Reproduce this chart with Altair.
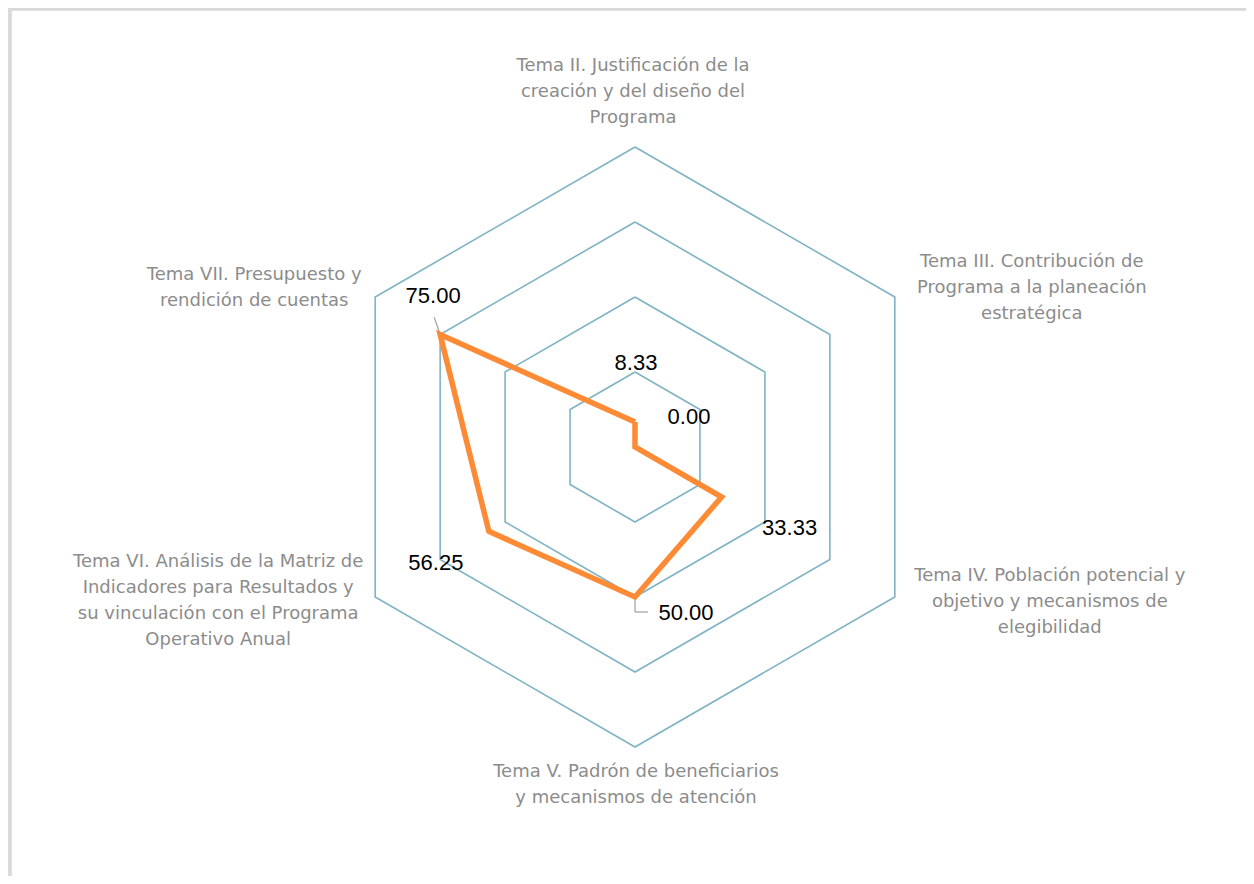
import altair as alt
import pandas as pd

# ---------------- data ----------------
categories = [
    "Tema II. Justificación de la\ncreación y del diseño del\nPrograma",
    "Tema III. Contribución de\nPrograma a la planeación\nestratégica",
    "Tema IV. Población potencial y\nobjetivo y mecanismos de\nelegibilidad",
    "Tema V. Padrón de beneficiarios\ny mecanismos de atención",
    "Tema VI. Análisis de la Matriz de\nIndicadores para Resultados y\nsu vinculación con el Programa\nOperativo Anual",
    "Tema VII. Presupuesto y\nrendición de cuentas",
]
values = [8.33, 0.00, 33.33, 50.00, 56.25, 75.00]
grid_levels = [25, 50, 75, 100]
axis_max = 100

# ---------------- layout / style ----------------
W, H = 1238, 868
CX, CY = 627, 439          # centre of the radar in plot pixels
PX = 3.0                   # pixels per unit
x_dom = [-CX / PX, (W - CX) / PX]
y_dom = [-(H - CY) / PX, CY / PX]

GRID = "#7fb3c3"
ORANGE = "#fd8b35"
LABEL_GRAY = "#8c8c8c"
CAT_FONT = "DejaVu Sans"
VAL_FONT = "Liberation Sans"
LINE_H = 26

n = len(categories)

pts = pd.DataFrame({
    "ord": list(range(n)) + [n],
    "cat": categories + [categories[0]],
    "value": values + [values[0]],
})
grid = pd.DataFrame(
    [{"level": lv, "ord": k} for lv in grid_levels for k in range(n + 1)]
)
cats = pd.DataFrame({"ord": list(range(n)), "cat": categories, "value": values,
                     "rmax": [axis_max] * n})

xs = alt.Scale(domain=x_dom, nice=False, zero=False)
ys = alt.Scale(domain=y_dom, nice=False, zero=False)
X = lambda f: alt.X(f"{f}:Q", scale=xs, axis=None)
Y = lambda f: alt.Y(f"{f}:Q", scale=ys, axis=None)

ang = f"PI/2 - datum.ord*PI/{n//2}"

grid_layer = alt.Chart(grid).transform_calculate(
    gx=f"datum.level*cos({ang})", gy=f"datum.level*sin({ang})"
).mark_line(color=GRID, strokeWidth=1.6).encode(
    x=X("gx"), y=Y("gy"), detail="level:N", order="ord:Q"
)

series = alt.Chart(pts).transform_calculate(
    px=f"datum.value*cos({ang})", py=f"datum.value*sin({ang})"
).mark_line(color=ORANGE, strokeWidth=5.5, strokeJoin="miter").encode(
    x=X("px"), y=Y("py"), order="ord:Q"
)

# category labels: anchored on the outer vertex, nudged in pixels (block centre)
cat_offsets = [(-2, -55), (137, -9), (155, 5), (1, 38), (-157, 4), (-121, -9)]
cat_layers = []
for i, (dx, dy) in enumerate(cat_offsets):
    nl = categories[i].count("\n")
    cat_layers.append(
        alt.Chart(cats).transform_filter(f"datum.ord == {i}").transform_calculate(
            vx=f"datum.rmax*cos({ang})", vy=f"datum.rmax*sin({ang})"
        ).mark_text(
            font=CAT_FONT, fontSize=18, color=LABEL_GRAY, align="center",
            baseline="middle", lineHeight=LINE_H, lineBreak="\n",
            dx=dx, dy=dy - nl * LINE_H / 2
        ).encode(x=X("vx"), y=Y("vy"), text="cat:N")
    )

# value labels
val_offsets = [(1, -59), (54, -30), (68, 31), (51, 16), (-53, 32), (-7, -39)]
val_layers = []
for i, (dx, dy) in enumerate(val_offsets):
    val_layers.append(
        alt.Chart(cats).transform_filter(f"datum.ord == {i}").transform_calculate(
            px=f"datum.value*cos({ang})", py=f"datum.value*sin({ang})"
        ).mark_text(
            font=VAL_FONT, fontSize=22, color="#000000", align="center",
            baseline="middle", dx=dx, dy=dy
        ).encode(x=X("px"), y=Y("py"), text=alt.Text("value:Q", format=".2f"))
    )

# leader lines (75.00 and 50.00 labels)
lead = alt.Chart(cats).transform_calculate(
    px=f"datum.value*cos({ang})", py=f"datum.value*sin({ang})"
)
leader75 = lead.transform_filter("datum.ord == 5").transform_calculate(
    px2="datum.px - 2", py2="datum.py + 5.8"
).mark_rule(color="#a6a6a6", strokeWidth=1.3).encode(
    x=X("px"), y=Y("py"), x2="px2:Q", y2="py2:Q"
)
leader50a = lead.transform_filter("datum.ord == 3").transform_calculate(
    py2="datum.py - 5"
).mark_rule(color="#a6a6a6", strokeWidth=1.3).encode(
    x=X("px"), y=Y("py"), y2="py2:Q"
)
leader50b = lead.transform_filter("datum.ord == 3").transform_calculate(
    py2="datum.py - 5", px2="datum.px + 4.3"
).mark_rule(color="#a6a6a6", strokeWidth=1.3).encode(
    x=X("px"), y=Y("py2"), x2="px2:Q"
)

# frame lines (top and left edge of the chart box)
frame_top = alt.Chart(cats).mark_rule(color="#d9d9d9", strokeWidth=2.5).encode(
    x=alt.value(0), x2=alt.value(W), y=alt.value(1)
)
frame_left = alt.Chart(cats).mark_rule(color="#d9d9d9", strokeWidth=2.5).encode(
    y=alt.value(0), y2=alt.value(H), x=alt.value(2)
)

chart = alt.layer(
    frame_top, frame_left, grid_layer, leader75, leader50a, leader50b, series,
    *cat_layers, *val_layers
).properties(
    width=W, height=H, padding=0, autosize=alt.AutoSizeParams(type="none")
).configure_view(stroke="transparent", strokeWidth=0).configure(background="white")

chart.save("out.html", embed_options={"renderer": "svg", "actions": False})
